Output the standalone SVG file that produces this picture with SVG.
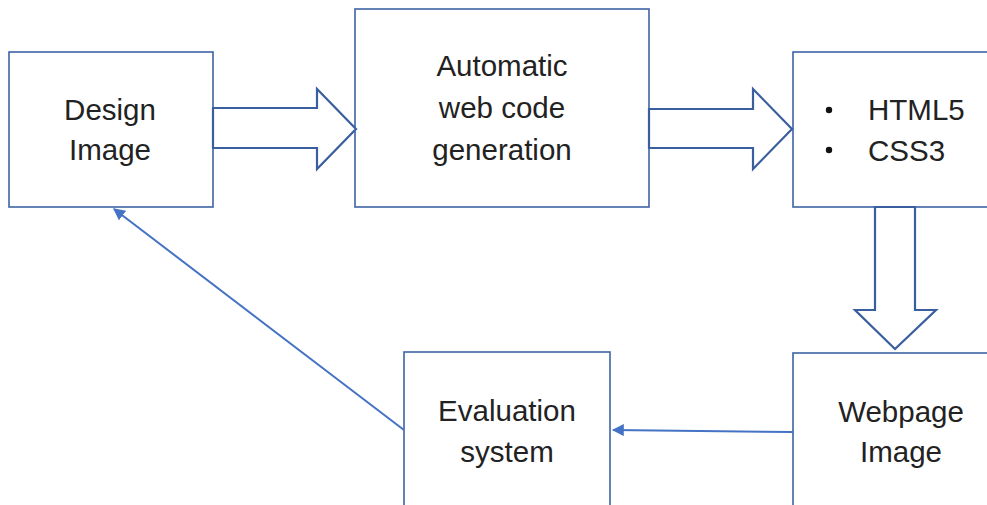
<svg xmlns="http://www.w3.org/2000/svg" width="987" height="505" viewBox="0 0 987 505">
  <defs>
    <style>
      .box { fill: #ffffff; stroke: #3f63a4; stroke-width: 1.6; }
      .block { fill: #ffffff; stroke: #3a5f9e; stroke-width: 2.2; stroke-linejoin: miter; }
      .link { fill: none; stroke: #4472c4; stroke-width: 2; }
      .label { font-family: "Liberation Sans", Arial, sans-serif; font-size: 29.5px; fill: #222222; text-anchor: middle; }
      .item { font-family: "Liberation Sans", Arial, sans-serif; font-size: 29.5px; fill: #222222; }
    </style>
    <marker id="tip" viewBox="0 0 10 10" refX="9" refY="5" markerWidth="6" markerHeight="6" orient="auto" markerUnits="strokeWidth">
      <path d="M0,0 L10,5 L0,10 z" fill="#4472c4"/>
    </marker>
  </defs>

  <rect width="987" height="505" fill="#ffffff"/>

  <g id="design-image">
    <rect class="box" x="9" y="52" width="204" height="155"/>
    <text class="label" x="110" y="120">Design</text>
    <text class="label" x="110" y="160">Image</text>
  </g>

  <g id="code-generation">
    <rect class="box" x="355" y="9" width="294" height="198"/>
    <text class="label" x="502" y="76">Automatic</text>
    <text class="label" x="502" y="118">web code</text>
    <text class="label" x="502" y="160">generation</text>
  </g>

  <g id="html-css">
    <rect class="box" x="793" y="52" width="200" height="155"/>
    <circle cx="829" cy="110" r="3.2" fill="#111111"/>
    <circle cx="829" cy="150" r="3.2" fill="#111111"/>
    <text class="item" x="868" y="120">HTML5</text>
    <text class="item" x="868" y="161">CSS3</text>
  </g>

  <g id="webpage-image">
    <rect class="box" x="793" y="353" width="200" height="160"/>
    <text class="label" x="901" y="422">Webpage</text>
    <text class="label" x="901" y="462">Image</text>
  </g>

  <g id="evaluation-system">
    <rect class="box" x="404" y="352" width="206" height="160"/>
    <text class="label" x="507" y="421">Evaluation</text>
    <text class="label" x="507" y="462">system</text>
  </g>

  <g id="connectors">
    <!-- hollow block arrows -->
    <polygon class="block" points="213,108 317,108 317,89 356,129 317,169 317,148 213,148"/>
    <polygon class="block" points="649,109 753,109 753,89 792,129 753,169 753,148 649,148"/>
    <polygon class="block" points="875,207 915,207 915,310 936,310 895,349 855,310 875,310"/>
    <!-- thin feedback lines -->
    <line class="link" x1="793" y1="432" x2="613" y2="430" marker-end="url(#tip)"/>
    <line class="link" x1="404" y1="430" x2="114" y2="209" marker-end="url(#tip)"/>
  </g>
</svg>
